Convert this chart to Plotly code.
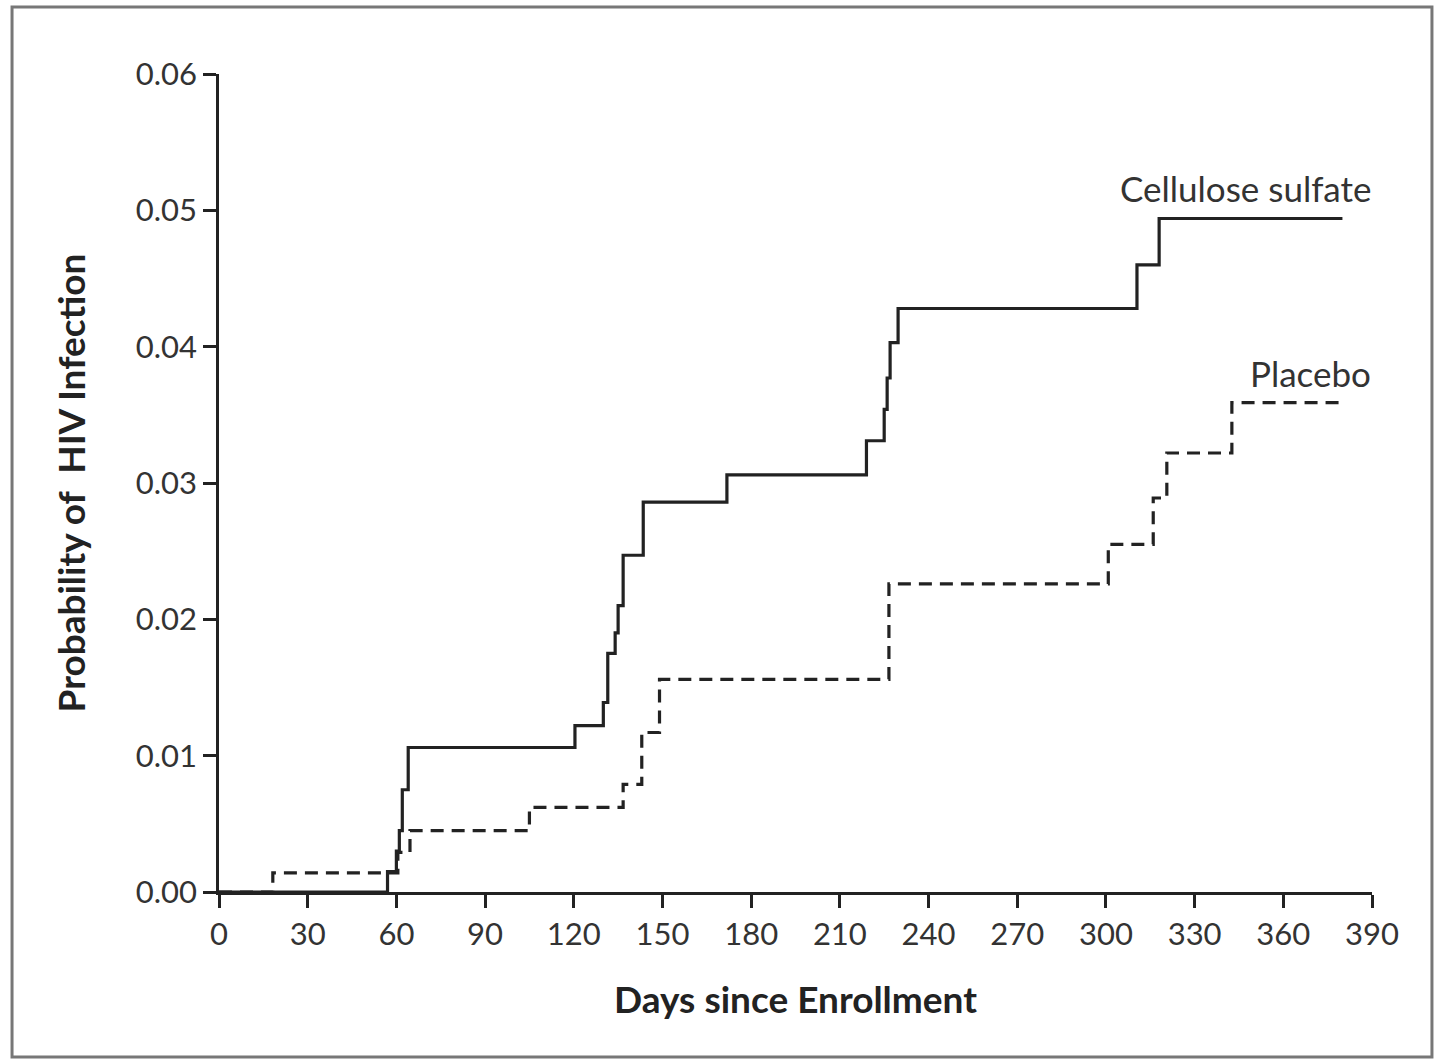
import plotly.graph_objects as go

# Cellulose sulfate (solid) Kaplan-Meier step curve
cs_days = [0, 57, 60, 61, 62, 64, 120.4, 130, 131.5, 134, 135, 136.7, 143.5, 171.8, 219, 225, 226, 227, 229.7, 310.5, 318, 380]
cs_prob = [0, 0.0015, 0.003, 0.0045, 0.0075, 0.0106, 0.0122, 0.0139, 0.0175, 0.019, 0.021, 0.0247, 0.0286, 0.0306, 0.0331, 0.0354, 0.0377, 0.0403, 0.0428, 0.046, 0.0494, 0.0494]

# Placebo (dashed) step curve
pl_days = [0, 18.2, 60.5, 64.6, 105, 136.7, 143, 149, 226.6, 300.8, 316, 320.6, 342.6, 380]
pl_prob = [0, 0.0014, 0.0029, 0.0045, 0.0062, 0.0079, 0.0117, 0.0156, 0.0226, 0.0255, 0.0289, 0.0322, 0.0359, 0.0359]

x_ticks = list(range(0, 391, 30))
y_ticks = [0.00, 0.01, 0.02, 0.03, 0.04, 0.05, 0.06]
y_tick_text = ["0.00", "0.01", "0.02", "0.03", "0.04", "0.05", "0.06"]

FONT = "Lato"
INK = "#222222"

fig = go.Figure()
fig.add_trace(go.Scatter(
    x=pl_days, y=pl_prob, mode="lines", line_shape="hv",
    line=dict(color=INK, width=3.2, dash="13px,8px"), showlegend=False, hoverinfo="skip",
))
fig.add_trace(go.Scatter(
    x=cs_days, y=cs_prob, mode="lines", line_shape="hv",
    line=dict(color=INK, width=3.2), showlegend=False, hoverinfo="skip",
))

fig.add_annotation(x=380, y=0.0494, xref="x", yref="y", text="Cellulose sulfate",
                   showarrow=False, xanchor="right", yanchor="middle", yshift=31, xshift=31,
                   font=dict(family=FONT, size=35, color="#333333"))
fig.add_annotation(x=380, y=0.0359, xref="x", yref="y", text="Placebo",
                   showarrow=False, xanchor="right", yanchor="middle", yshift=30, xshift=31,
                   font=dict(family=FONT, size=35, color="#333333"))

# outer frame
fig.add_shape(type="rect", xref="paper", yref="paper",
              x0=-0.1795, x1=1.052, y0=-0.2017, y1=1.0819,
              line=dict(color="#777777", width=3), fillcolor="rgba(0,0,0,0)", layer="below")

fig.update_layout(
    width=1437, height=1061,
    margin=dict(l=219, r=65, t=74, b=169),
    paper_bgcolor="white", plot_bgcolor="white",
    font=dict(family=FONT, color="#333333"),
    xaxis=dict(
        range=[0, 390], tickvals=x_ticks, ticktext=[str(v) for v in x_ticks],
        showgrid=False, zeroline=False, showline=True, linecolor=INK, linewidth=2.5,
        ticks="outside", ticklen=13, tickwidth=2.5, tickcolor=INK,
        tickfont=dict(family=FONT, size=31, color="#333333"),
        title=dict(text="<b>Days since Enrollment</b>", standoff=37,
                   font=dict(family=FONT, size=37, color="#222222")),
    ),
    yaxis=dict(
        range=[0, 0.06], tickvals=y_ticks, ticktext=y_tick_text,
        showgrid=False, zeroline=False, showline=True, linecolor=INK, linewidth=2.5,
        ticks="outside", ticklen=13, tickwidth=2.5, tickcolor=INK,
        tickfont=dict(family=FONT, size=31, color="#333333"),
        title=dict(text="<b>Probability of  HIV Infection</b>", standoff=39,
                   font=dict(family=FONT, size=37, color="#222222")),
    ),
)

fig.write_html("out.html")
